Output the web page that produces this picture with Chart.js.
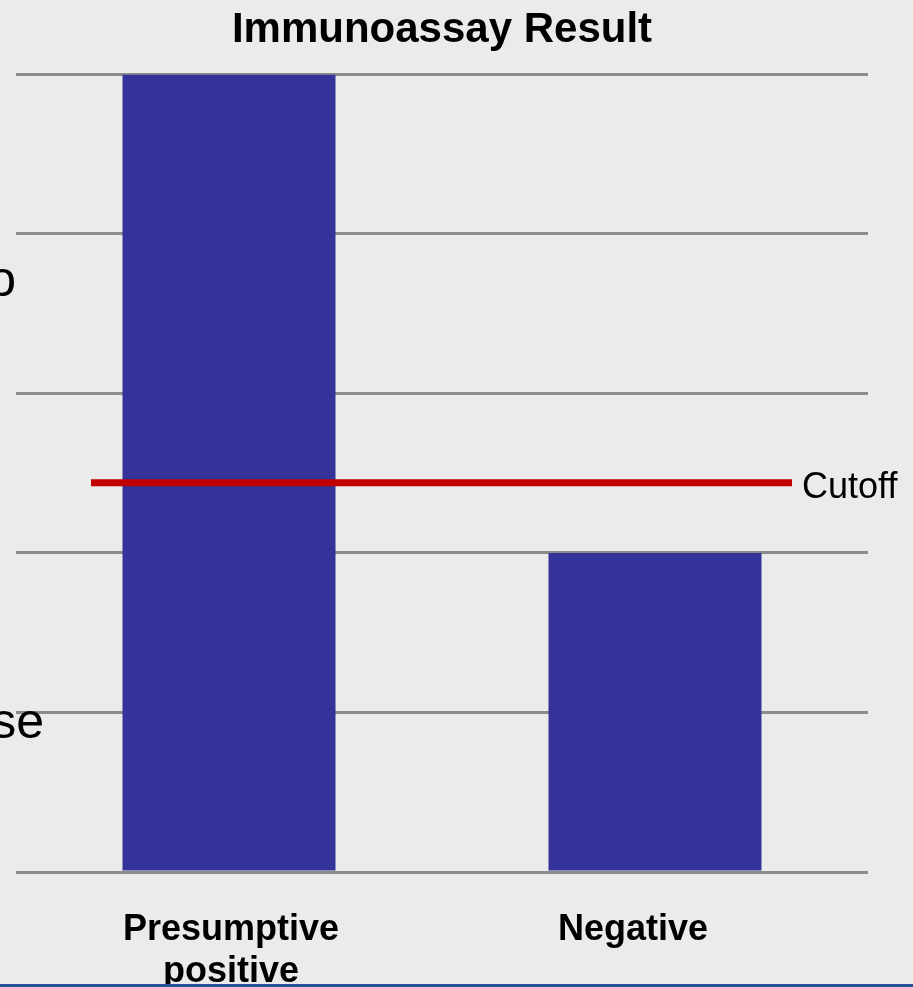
<!DOCTYPE html>
<html>
<head>
<meta charset="utf-8">
<script src="https://cdn.jsdelivr.net/npm/chart.js@4"></script>
<style>
  html, body { margin: 0; padding: 0; background: #ebebeb; overflow: hidden; }
  #wrap { position: relative; width: 913px; height: 987px; }
</style>
</head>
<body>
<div id="wrap"><canvas id="c"></canvas></div>
<script>
// ---- data ----
const chartTitle = 'Immunoassay Result';
const categories = [['Presumptive', 'positive'], ['Negative']];
const values = [5, 2];
const cutoffValue = 2.44;
const cutoffLabel = 'Cutoff';
const yMin = 0, yMax = 5, yStep = 1;
const leftFragments = ['o', 'se'];

const FONT = '"Liberation Sans", Arial, Helvetica, sans-serif';

const decor = {
  id: 'decor',
  afterDraw(chart) {
    const ctx = chart.ctx;
    const xs = chart.scales.x, ys = chart.scales.y;
    const area = chart.chartArea;
    ctx.save();
    // cutoff line
    const cy = ys.getPixelForValue(cutoffValue);
    ctx.strokeStyle = '#c00000';
    ctx.lineWidth = 7;
    ctx.beginPath();
    ctx.moveTo(area.left + 75, cy);
    ctx.lineTo(area.right - 76, cy);
    ctx.stroke();
    ctx.fillStyle = '#000';
    ctx.font = '36px ' + FONT;
    ctx.textAlign = 'left';
    ctx.textBaseline = 'alphabetic';
    ctx.fillText(cutoffLabel, area.right - 66, cy + 15);

    // category labels
    const shifts = [2, -22];
    ctx.font = 'bold 36px ' + FONT;
    ctx.textAlign = 'center';
    categories.forEach((lines, i) => {
      const x = xs.getPixelForValue(i) + shifts[i];
      lines.forEach((t, j) => {
        ctx.fillText(t, x, area.bottom + 68 + j * 42);
      });
    });

    // clipped left-edge text fragments
    ctx.font = '50px ' + FONT;
    ctx.textAlign = 'right';
    ctx.fillText(leftFragments[0], 16, 296);
    ctx.fillText(leftFragments[1], 44, 738);

    // bottom blue rule
    ctx.fillStyle = '#26509a';
    ctx.fillRect(0, chart.height - 3, chart.width, 3);
    ctx.restore();
  }
};

new Chart(document.getElementById('c'), {
  type: 'bar',
  data: {
    labels: categories,
    datasets: [{
      data: values,
      backgroundColor: '#333399',
      borderWidth: 0,
      barPercentage: 0.5,
      categoryPercentage: 1.0
    }]
  },
  options: {
    responsive: true,
    maintainAspectRatio: false,
    animation: false,
    layout: { padding: { left: 16, right: 45, top: 0, bottom: 115 } },
    plugins: {
      legend: { display: false },
      tooltip: { enabled: false },
      title: {
        display: true,
        text: chartTitle,
        color: '#000',
        font: { family: FONT, size: 42, weight: 'bold', lineHeight: 1.2 },
        padding: { top: 5, bottom: 19 }
      }
    },
    scales: {
      x: { display: false },
      y: {
        min: yMin, max: yMax,
        z: 1,
        ticks: { display: false, stepSize: yStep },
        border: { display: false },
        grid: { color: '#8c8c8c', lineWidth: 3, drawTicks: false }
      }
    }
  },
  plugins: [decor]
});
</script>
</body>
</html>
